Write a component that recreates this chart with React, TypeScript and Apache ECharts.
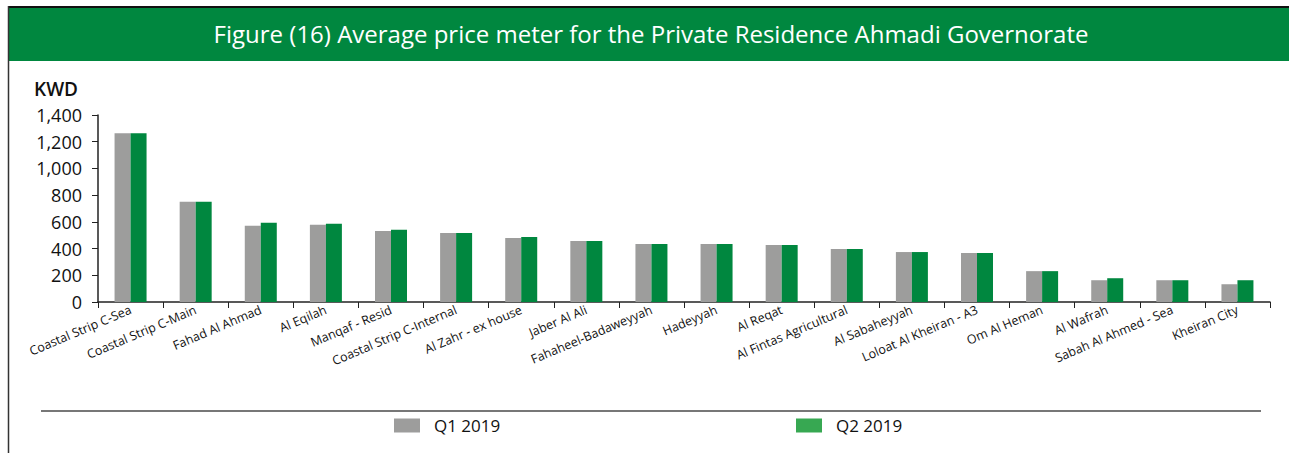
import React, { useEffect, useRef } from "react";
import * as echarts from "echarts";

const categories = [
  "Coastal Strip C-Sea",
  "Coastal Strip C-Main",
  "Fahad Al Ahmad",
  "Al Eqilah",
  "Manqaf - Resid",
  "Coastal Strip C-Internal",
  "Al Zahr - ex house",
  "Jaber Al Ali",
  "Fahaheel-Badaweyyah",
  "Hadeyyah",
  "Al Reqat",
  "Al Fintas Agricultural",
  "Al Sabaheyyah",
  "Loloat Al Kheiran - A3",
  "Om Al Heman",
  "Al Wafrah",
  "Sabah Al Ahmed - Sea",
  "Kheiran City",
];

const q1Values = [1263, 751, 570, 578, 532, 517, 480, 457, 434, 434, 427, 397, 374, 367, 231, 163, 163, 133];
const q2Values = [1263, 751, 593, 585, 540, 517, 487, 457, 434, 434, 427, 397, 374, 367, 231, 178, 163, 163];

const seriesNames = ["Q1 2019", "Q2 2019"];
const titleText = "Figure (16) Average price meter for the Private Residence Ahmadi Governorate";
const unitText = "KWD";

const FONT = "'Open Sans', 'Noto Sans', sans-serif";
const GRAY = "#9d9d9c";
const GREEN = "#00873f";
const LEGEND_GREEN = "#37a852";

export default function App() {
  const ref = useRef<HTMLDivElement>(null);

  useEffect(() => {
    document.body.style.margin = "0";
    if (!ref.current) return;
    const chart = echarts.init(ref.current, undefined, { renderer: "svg" });
    chart.setOption({
      animation: false,
      backgroundColor: "#ffffff",
      textStyle: { fontFamily: FONT },
      graphic: [
        { type: "rect", shape: { x: 9, y: 8, width: 1280, height: 53 }, style: { fill: GREEN } },
        { type: "line", shape: { x1: 8, y1: 7, x2: 1289, y2: 7 }, style: { stroke: "#111", lineWidth: 2 } },
        { type: "line", shape: { x1: 8.5, y1: 6, x2: 8.5, y2: 453 }, style: { stroke: "#333", lineWidth: 1.5 } },
        {
          type: "text",
          x: 651,
          y: 33,
          style: {
            text: titleText,
            fill: "#ffffff",
            font: `24px ${FONT}`,
            align: "center",
            verticalAlign: "middle",
          },
        },
        {
          type: "text",
          x: 34,
          y: 89,
          style: {
            text: unitText,
            fill: "#111",
            font: `600 19px ${FONT}`,
            align: "left",
            verticalAlign: "middle",
          },
        },
        { type: "line", shape: { x1: 41, y1: 411, x2: 1261, y2: 411 }, style: { stroke: "#777", lineWidth: 2 } },
      ],
      legend: [
        {
          left: 394,
          top: 417,
          padding: 0,
          itemWidth: 26,
          itemHeight: 14,
          icon: "rect",
          textStyle: { fontSize: 17, color: "#111", fontFamily: FONT, padding: [0, 0, 0, 9] },
          data: [{ name: seriesNames[0], itemStyle: { color: GRAY } }],
        },
        {
          left: 796,
          top: 417,
          padding: 0,
          itemWidth: 26,
          itemHeight: 14,
          icon: "rect",
          textStyle: { fontSize: 17, color: "#111", fontFamily: FONT, padding: [0, 0, 0, 9] },
          data: [{ name: seriesNames[1], itemStyle: { color: LEGEND_GREEN } }],
        },
      ],
      grid: { left: 98, right: 19, top: 115, bottom: 151, containLabel: false },
      xAxis: {
        type: "category",
        data: categories,
        axisLine: { show: true, lineStyle: { color: "#222", width: 1.5 } },
        axisTick: { show: true, length: 6, lineStyle: { color: "#222" } },
        axisLabel: {
          interval: 0,
          rotate: 23,
          margin: 7,
          fontSize: 12.5,
          color: "#111",
          fontFamily: FONT,
        },
      },
      yAxis: {
        type: "value",
        min: 0,
        max: 1400,
        interval: 200,
        axisLine: { show: true, lineStyle: { color: "#222", width: 1.5 } },
        axisTick: { show: true, length: 6, lineStyle: { color: "#222" } },
        splitLine: { show: false },
        axisLabel: {
          fontSize: 18,
          color: "#111",
          margin: 16,
          fontFamily: FONT,
          formatter: (v: number) => v.toLocaleString("en-US"),
        },
      },
      series: [
        {
          name: seriesNames[0],
          type: "bar",
          data: q1Values,
          barWidth: 16,
          barGap: "0%",
          itemStyle: { color: GRAY },
        },
        {
          name: seriesNames[1],
          type: "bar",
          data: q2Values,
          barWidth: 16,
          barGap: "0%",
          itemStyle: { color: GREEN },
        },
      ],
    });
    return () => chart.dispose();
  }, []);

  return <div ref={ref} style={{ width: 1289, height: 453 }} />;
}
